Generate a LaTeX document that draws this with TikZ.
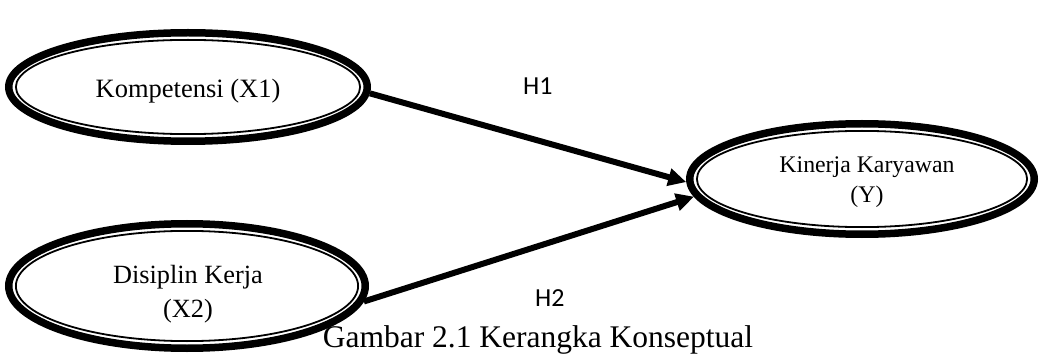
\documentclass[tikz,border=0pt]{standalone}
\usepackage{fontspec}
\setmainfont{Liberation Serif}
\newfontfamily\calibrifont{Carlito}
\usetikzlibrary{shapes.geometric,arrows.meta}
\begin{document}
\begin{tikzpicture}[x=1pt,y=-1pt,
  outerell/.style={ellipse,draw,line width=7.5pt,inner sep=0pt},
  innerell/.style={line width=1.8pt},
  conn/.style={line width=6pt,-{Triangle[length=18pt,width=17pt]}},
  lbl/.style={inner sep=0pt,align=center},
  hlbl/.style={inner sep=0pt,anchor=base west,font=\calibrifont\fontsize{26}{30}\selectfont}]
\useasboundingbox (0,0) rectangle (1041,358);
% ellipses
\node[outerell,minimum width=358.5pt,minimum height=108.5pt] (k) at (188,87) {};
\draw[innerell] (k.center) ellipse [x radius=172.1pt, y radius=47.1pt];
\node[outerell,minimum width=356.5pt,minimum height=124.5pt] (d) at (187,286) {};
\draw[innerell] (d.center) ellipse [x radius=171.1pt, y radius=55.1pt];
\node[outerell,minimum width=344.5pt,minimum height=110.5pt] (y) at (862,179) {};
\draw[innerell] (y.center) ellipse [x radius=165.1pt, y radius=48.1pt];
% texts
\node[lbl,anchor=base,font=\fontsize{26.5}{30}\selectfont] (kt) at (188,98) {Kompetensi (X1)};
\node[lbl,font=\fontsize{26.3}{34}\selectfont] (dt) at (188,293.7) {Disiplin Kerja\\(X2)};
\node[lbl,font=\fontsize{23.8}{30}\selectfont] (yt) at (867,182.3) {Kinerja Karyawan\\(Y)};
% connectors
\draw[conn] (k.-2.5) -- (y.181);
\draw[conn] (d.-5.4) -- (y.186);
\node[hlbl] (h1) at (523,95) {H1};
\node[hlbl] (h2) at (535,306) {H2};
% caption
\node[inner sep=0pt,anchor=base,font=\fontsize{31.5}{36}\selectfont] (cap) at (538,347) {Gambar 2.1 Kerangka Konseptual};
\end{tikzpicture}
\end{document}
